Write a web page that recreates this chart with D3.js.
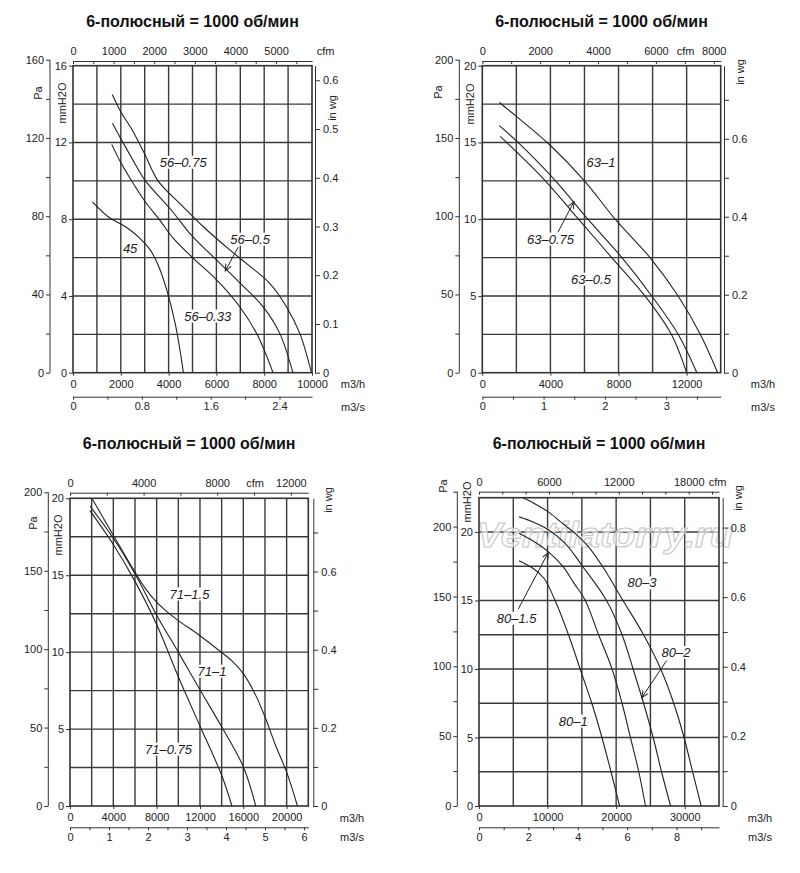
<!DOCTYPE html>
<html lang="ru">
<head>
<meta charset="UTF-8">
<title>6-полюсный = 1000 об/мин</title>
<script src="https://d3js.org/d3.v7.min.js"></script>
<style>
  body { margin: 0; background: #fff; }
  svg { font-family: "Liberation Sans", Arial, sans-serif; }
  .title { font-size: 16px; font-weight: bold; fill: #111; }
  .axis text { font-size: 11px; fill: #222; }
  .axis line, .axis path { stroke: #333; stroke-width: 1; }
  .grid line { stroke: #3a3a3a; stroke-width: 1.4; }
  .frame { fill: none; stroke: #333; stroke-width: 1.6; }
  .unit { font-size: 11px; fill: #222; }
  .curve { fill: none; stroke: #222; stroke-width: 1.1; }
  .clabel { font-size: 13px; font-style: italic; fill: #222; }
  .leader { stroke: #222; stroke-width: 1; fill: none; }
</style>
</head>
<body>
<script>
const titleText = "6-полюсный = 1000 об/мин";

// unit conversions used by the secondary axes
const M3H_PER_CFM = 1.699;
const M3H_PER_M3S = 3600;
const PA_PER_MM = 9.81;
const MM_PER_INWG = 25.4;

// ---- panel 1 : 45 / 56 (m3/h, mmH2O)
const fan45     = [[810,8.9],[1500,8.1],[2000,7.75],[2390,7.44],[2800,7.0],[3230,6.4],[3600,5.5],[3925,4.3],[4270,2.6],[4460,1.3],[4620,0]];
const fan56_033 = [[1620,11.9],[2000,10.95],[2450,10.0],[3000,8.95],[3600,8.0],[4200,7.0],[5000,6.0],[6000,4.85],[7000,3.4],[7700,2.0],[8370,0]];
const fan56_05  = [[1650,13.0],[2000,12.2],[2500,11.1],[3000,10.05],[4050,8.57],[5000,7.1],[6000,5.88],[7000,4.66],[7950,3.44],[8650,2.05],[9200,0]];
const fan56_075 = [[1640,14.5],[2000,13.6],[2500,12.6],[3000,11.4],[3560,10.0],[4600,8.66],[5440,7.62],[6560,6.4],[7330,5.62],[8230,4.66],[8930,3.44],[9490,2.05],[9975,0]];
const p1Flow = [0,2000,4000,6000,8000,10000];
const p1Mm = [0,4,8,12,16];
const p1Pa = [0,40,80,120,160];
const p1PaMinor = [20,60,100,140];
const p1In = [0,0.1,0.2,0.3,0.4,0.5,0.6];
const p1Cfm = [0,1000,2000,3000,4000,5000];
const p1CfmMinor = [500,1500,2500,3500,4500,5500];
const p1Ms = [0,0.8,1.6,2.4];
const p1MsMinor = [0.4,1.2,2.0];
const p1Labels = [["56–0.75",4610,10.97],["56–0.5",7415,6.96],["56–0.33",5635,2.95],["45",2390,6.45]];
const p1Leaders = [[[6910,6.54],[6370,5.3]]];

// ---- panel 2 : 63
const fan63_05  = [[1050,15.4],[1430,15.0],[3700,12.5],[5650,10.0],[7600,7.5],[9550,5.0],[11100,2.5],[12000,0]];
const fan63_075 = [[1000,16.1],[2100,15.0],[4300,12.5],[6200,10.0],[8200,7.5],[9950,5.0],[11500,2.5],[12600,0]];
const fan63_1   = [[1000,17.6],[2000,16.7],[4000,14.8],[6000,12.5],[7800,10.0],[9850,7.5],[11500,5.0],[12800,2.5],[13820,0]];
const p2Flow = [0,4000,8000,12000];
const p2Mm = [0,5,10,15,20];
const p2Pa = [0,50,100,150,200];
const p2PaMinor = [25,75,125,175];
const p2In = [0,0.2,0.4,0.6];
const p2InMinor = [0.1,0.3,0.5,0.7];
const p2Cfm = [0,2000,4000,6000,8000];
const p2CfmMinor = [1000,3000,5000,7000];
const p2Ms = [0,1,2,3];
const p2MsMinor = [0.5,1.5,2.5,3.5];
const p2Labels = [["63–1",6970,13.72],["63–0.75",4005,8.71],["63–0.5",6383,6.1]];
const p2Leaders = [[[4445,9.15],[5385,11.15]]];

// ---- panel 3 : 71
const fan71_075 = [[1840,19.2],[4000,17.0],[6000,14.6],[8000,11.8],[10000,8.4],[12000,5.2],[14000,2.0],[14950,0]];
const fan71_1   = [[1840,19.5],[4000,17.4],[6000,15.1],[8000,12.4],[10000,10.0],[12000,7.55],[14000,5.15],[16000,2.55],[17150,0]];
const fan71_15  = [[2020,20.0],[4000,17.6],[6000,15.2],[7000,14.1],[8000,13.25],[9000,12.6],[10000,12.05],[12000,11.07],[14000,9.98],[15000,9.4],[16000,8.6],[17000,7.4],[18000,5.8],[19000,3.9],[20000,2.2],[21000,0]];
const p3Flow = [0,4000,8000,12000,16000,20000];
const p3Mm = [0,5,10,15,20];
const p3Pa = [0,50,100,150,200];
const p3PaMinor = [25,75,125,175];
const p3In = [0,0.2,0.4,0.6];
const p3InMinor = [0.1,0.3,0.5,0.7];
const p3Cfm = [0,4000,8000,12000];
const p3CfmMinor = [2000,6000,10000];
const p3Ms = [0,1,2,3,4,5,6];
const p3MsMinor = [0.5,1.5,2.5,3.5,4.5,5.5];
const p3Labels = [["71–1.5",11032,13.78],["71–1",13109,8.77],["71–0.75",9093,3.7]];
const p3Leaders = [];

// ---- panel 4 : 80
const fan80_1  = [[5850,17.9],[8000,17.3],[9500,16.6],[11100,15.0],[13050,12.5],[14750,10.0],[16450,7.5],[17930,5.0],[19250,2.5],[20500,0]];
const fan80_15 = [[5850,19.9],[8000,19.3],[10000,18.6],[12200,17.5],[13800,16.3],[15500,15.0],[17440,12.5],[19400,10.0],[20860,7.5],[22080,5.0],[23300,2.5],[24280,0]];
const fan80_2  = [[5850,21.1],[8000,20.7],[10000,20.2],[12500,19.2],[15100,17.5],[18600,15.0],[20860,12.5],[22470,10.0],[24000,7.5],[25400,5.0],[26620,2.5],[27940,0]];
const fan80_3  = [[6400,22.5],[8000,22.1],[10000,21.5],[12000,20.7],[14000,19.9],[16000,18.9],[18000,17.5],[21000,15.0],[24000,12.5],[26500,10.0],[28400,7.5],[29900,5.0],[31150,2.5],[32400,0]];
const p4Flow = [0,10000,20000,30000];
const p4Mm = [0,5,10,15,20];
const p4Pa = [0,50,100,150,200];
const p4PaMinor = [25,75,125,175,225];
const p4In = [0,0.2,0.4,0.6,0.8];
const p4InMinor = [0.1,0.3,0.5,0.7];
const p4Cfm = [0,6000,12000,18000];
const p4CfmMinor = [2000,4000,8000,10000,14000,16000,20000];
const p4Ms = [0,2,4,6,8];
const p4MsMinor = [1,3,5,7,9];
const p4Labels = [["80–3",23770,16.28],["80–2",28730,11.22],["80–1.5",5500,13.7],["80–1",13750,6.2]];
const p4Leaders = [[[27370,10.62],[23730,7.9]],[[5730,14.38],[10106,18.5]]];

const panels = [
  { box: {left: 73, right: 312, top: 65.7, bottom: 372.7}, titleY: 27,
    flowMax: 10000, pressMax: 16, gridFlowStep: 1000, gridPressStep: 2,
    flow: p1Flow, mm: p1Mm, pa: p1Pa, paMinor: p1PaMinor, inwg: p1In, inMinor: [],
    cfm: p1Cfm, cfmMinor: p1CfmMinor, ms: p1Ms, msMinor: p1MsMinor,
    paX: 50, inX: 315, cfmY: 61, msY: 396.7, cfmLabelX: 325.5, unitX: 353,
    paLab: [38, 93], mmLab: [62, 103], inLab: [332, 108],
    curves: [fan45, fan56_033, fan56_05, fan56_075], labels: p1Labels, leaders: p1Leaders },
  { box: {left: 482.3, right: 720.7, top: 65.7, bottom: 372.7}, titleY: 27,
    flowMax: 14000, pressMax: 20, gridFlowStep: 2000, gridPressStep: 2.5,
    flow: p2Flow, mm: p2Mm, pa: p2Pa, paMinor: p2PaMinor, inwg: p2In, inMinor: p2InMinor,
    cfm: p2Cfm, cfmMinor: p2CfmMinor, ms: p2Ms, msMinor: p2MsMinor,
    paX: 459.3, inX: 724, cfmY: 61, msY: 396.7, cfmLabelX: 685.5, unitX: 763,
    paLab: [438, 92], mmLab: [470, 104], inLab: [740, 72],
    curves: [fan63_05, fan63_075, fan63_1], labels: p2Labels, leaders: p2Leaders },
  { box: {left: 70, right: 308.3, top: 498.3, bottom: 806}, titleY: 449,
    flowMax: 22000, pressMax: 20, gridFlowStep: 2000, gridPressStep: 2.5,
    flow: p3Flow, mm: p3Mm, pa: p3Pa, paMinor: p3PaMinor, inwg: p3In, inMinor: p3InMinor,
    cfm: p3Cfm, cfmMinor: p3CfmMinor, ms: p3Ms, msMinor: p3MsMinor,
    paX: 48.3, inX: 313.3, cfmY: 492.7, msY: 827.3, cfmLabelX: 255, unitX: 352,
    paLab: [33, 523], mmLab: [58, 535], inLab: [328, 500],
    curves: [fan71_075, fan71_1, fan71_15], labels: p3Labels, leaders: p3Leaders },
  { box: {left: 479, right: 719, top: 497.7, bottom: 806}, titleY: 449,
    flowMax: 35000, pressMax: 22.5, gridFlowStep: 5000, gridPressStep: 2.5,
    flow: p4Flow, mm: p4Mm, pa: p4Pa, paMinor: p4PaMinor, inwg: p4In, inMinor: p4InMinor,
    cfm: p4Cfm, cfmMinor: p4CfmMinor, ms: p4Ms, msMinor: p4MsMinor,
    paX: 457.3, inX: 722.7, cfmY: 491.7, msY: 827.3, cfmLabelX: 717.5, unitX: 760,
    paLab: [443, 486], mmLab: [467, 502], inLab: [738, 498],
    watermark: true,
    curves: [fan80_1, fan80_15, fan80_2, fan80_3], labels: p4Labels, leaders: p4Leaders }
];

// plain numbers on the axes: no thousands separators, no padded decimals
const plain = d => String(d);

const svg = d3.select("body").append("svg")
              .attr("width", 800)
              .attr("height", 873);

svg.append("defs").append("marker")
   .attr("id", "tip")
   .attr("viewBox", "0 0 8 8")
   .attr("refX", 7).attr("refY", 4)
   .attr("markerWidth", 8).attr("markerHeight", 8)
   .attr("markerUnits", "userSpaceOnUse")
   .attr("orient", "auto")
   .append("path")
   .attr("d", "M0,1 L7,4 L0,7")
   .attr("fill", "none").attr("stroke", "#222").attr("stroke-width", 1);

function rotLabel(g, pos, txt) {
  g.append("text").attr("class", "unit")
   .attr("transform", `translate(${pos[0]},${pos[1]}) rotate(-90)`)
   .attr("text-anchor", "middle").attr("dy", "0.35em")
   .text(txt);
}

function drawPanel(p) {
  const b = p.box;
  const g = svg.append("g");

  const x = d3.scaleLinear().domain([0, p.flowMax]).range([b.left, b.right]);
  const y = d3.scaleLinear().domain([0, p.pressMax]).range([b.bottom, b.top]);
  const xCfm = d3.scaleLinear().domain([0, p.flowMax / M3H_PER_CFM]).range([b.left, b.right]);
  const xMs = d3.scaleLinear().domain([0, p.flowMax / M3H_PER_M3S]).range([b.left, b.right]);
  const yPa = d3.scaleLinear().domain([0, p.pressMax * PA_PER_MM]).range([b.bottom, b.top]);
  const yIn = d3.scaleLinear().domain([0, p.pressMax / MM_PER_INWG]).range([b.bottom, b.top]);

  g.append("text").attr("class", "title")
   .attr("x", (b.left + b.right) / 2).attr("y", p.titleY)
   .attr("text-anchor", "middle").text(titleText);

  // grid
  const grid = g.append("g").attr("class", "grid");
  grid.selectAll("line.v")
      .data(d3.range(p.gridFlowStep, p.flowMax - 1, p.gridFlowStep))
      .join("line").attr("class", "v")
      .attr("x1", d => x(d)).attr("x2", d => x(d))
      .attr("y1", b.top).attr("y2", b.bottom);
  grid.selectAll("line.h")
      .data(d3.range(p.gridPressStep, p.pressMax - 0.01, p.gridPressStep))
      .join("line").attr("class", "h")
      .attr("y1", d => y(d)).attr("y2", d => y(d))
      .attr("x1", b.left).attr("x2", b.right);

  if (p.watermark) {
    g.append("text")
     .attr("x", 477).attr("y", 547)
     .attr("textLength", 256).attr("lengthAdjust", "spacingAndGlyphs")
     .style("font-size", "35px").style("font-style", "italic").style("font-weight", "bold")
     .style("fill", "rgba(255,255,255,0.65)").style("stroke", "#c4c4c4").style("stroke-width", 1)
     .text("Ventilatorry.ru");
  }

  g.append("rect").attr("class", "frame")
   .attr("x", b.left).attr("y", b.top)
   .attr("width", b.right - b.left).attr("height", b.bottom - b.top);

  // mmH2O (left of plot)
  const mmAx = g.append("g").attr("class", "axis")
     .attr("transform", `translate(${b.left},0)`)
     .call(d3.axisLeft(y).tickValues(p.mm).tickFormat(plain).tickSize(4).tickPadding(2));
  mmAx.select(".domain").remove();

  // Pa
  const paTop = d3.max(p.pa.concat(p.paMinor));
  const paAx = g.append("g").attr("class", "axis")
     .attr("transform", `translate(${p.paX},0)`)
     .call(d3.axisLeft(yPa).tickValues(p.pa).tickFormat(plain).tickSize(4).tickPadding(2));
  paAx.select(".domain").remove();
  paAx.append("line").attr("x1", 0).attr("x2", 0)
      .attr("y1", yPa(0)).attr("y2", yPa(paTop));
  const paMin = g.append("g").attr("class", "axis")
     .attr("transform", `translate(${p.paX},0)`)
     .call(d3.axisLeft(yPa).tickValues(p.paMinor).tickSize(4).tickFormat(""));
  paMin.select(".domain").remove();

  // in wg (right)
  g.append("g").attr("class", "axis")
   .attr("transform", `translate(${p.inX},0)`)
   .call(d3.axisRight(yIn).tickValues(p.inwg).tickFormat(plain).tickSize(5).tickSizeOuter(0).tickPadding(3));
  const inMin = g.append("g").attr("class", "axis")
     .attr("transform", `translate(${p.inX},0)`)
     .call(d3.axisRight(yIn).tickValues(p.inMinor).tickSize(5).tickFormat(""));
  inMin.select(".domain").remove();

  // cfm (top)
  g.append("g").attr("class", "axis")
   .attr("transform", `translate(0,${p.cfmY})`)
   .call(d3.axisTop(xCfm).tickValues(p.cfm).tickFormat(plain).tickSize(-3).tickSizeOuter(0).tickPadding(6));
  const cfmMin = g.append("g").attr("class", "axis")
     .attr("transform", `translate(0,${p.cfmY})`)
     .call(d3.axisTop(xCfm).tickValues(p.cfmMinor).tickSize(-3).tickFormat(""));
  cfmMin.select(".domain").remove();
  g.append("text").attr("class", "unit")
   .attr("x", p.cfmLabelX).attr("y", p.cfmY - 6)
   .attr("text-anchor", "middle").text("cfm");

  // m3/h (bottom of plot)
  const flowAx = g.append("g").attr("class", "axis")
     .attr("transform", `translate(0,${b.bottom})`)
     .call(d3.axisBottom(x).tickValues(p.flow).tickFormat(plain).tickSize(3).tickPadding(4.5));
  flowAx.select(".domain").remove();
  g.append("text").attr("class", "unit")
   .attr("x", p.unitX).attr("y", b.bottom + 15.5)
   .attr("text-anchor", "middle").text("m3/h");

  // m3/s
  g.append("g").attr("class", "axis")
   .attr("transform", `translate(0,${p.msY})`)
   .call(d3.axisBottom(xMs).tickValues(p.ms).tickFormat(plain).tickSize(3).tickSizeOuter(0).tickPadding(3));
  const msMin = g.append("g").attr("class", "axis")
     .attr("transform", `translate(0,${p.msY})`)
     .call(d3.axisBottom(xMs).tickValues(p.msMinor).tickSize(3).tickFormat(""));
  msMin.select(".domain").remove();
  g.append("text").attr("class", "unit")
   .attr("x", p.unitX).attr("y", p.msY + 14)
   .attr("text-anchor", "middle").text("m3/s");

  rotLabel(g, p.paLab, "Pa");
  rotLabel(g, p.mmLab, "mmH2O");
  rotLabel(g, p.inLab, "in wg");

  // curve labels with white backing (they break the grid lines)
  p.labels.forEach(l => {
    const t = g.append("text").attr("class", "clabel")
       .attr("x", x(l[1])).attr("y", y(l[2]))
       .attr("text-anchor", "middle").attr("dy", "0.35em")
       .text(l[0]);
    const bb = t.node().getBBox();
    g.insert("rect", () => t.node())
     .attr("x", bb.x - 1).attr("y", bb.y + 1)
     .attr("width", bb.width + 2).attr("height", bb.height - 2)
     .attr("fill", "#fff");
  });

  // fan curves
  const line = d3.line()
                 .x(d => x(d[0]))
                 .y(d => y(d[1]))
                 .curve(d3.curveCatmullRom.alpha(0.5));
  g.selectAll("path.curve")
   .data(p.curves)
   .join("path")
   .attr("class", "curve")
   .attr("d", line);

  g.selectAll("path.leader")
   .data(p.leaders)
   .join("path")
   .attr("class", "leader")
   .attr("d", d => `M${x(d[0][0])},${y(d[0][1])}L${x(d[1][0])},${y(d[1][1])}`)
   .attr("marker-end", "url(#tip)");
}

panels.forEach(drawPanel);
</script>
</body>
</html>
